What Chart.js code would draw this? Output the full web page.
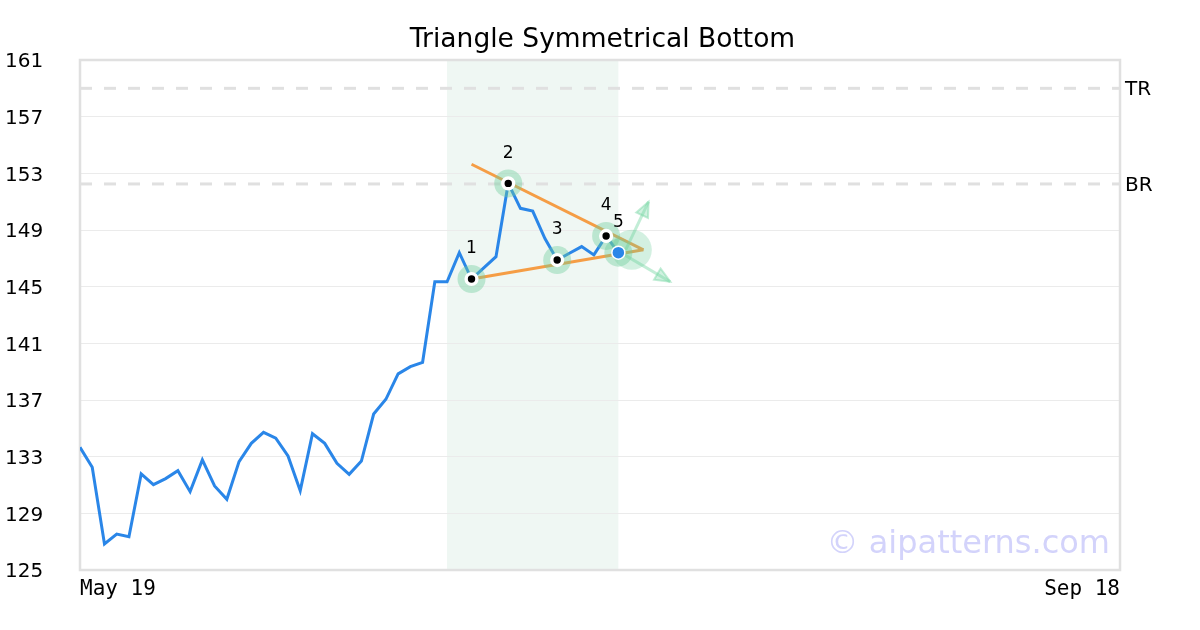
<!DOCTYPE html>
<html>
<head>
<meta charset="utf-8">
<script src="https://cdn.jsdelivr.net/npm/chart.js@4/dist/chart.umd.min.js"></script>
<style>
  html, body { margin: 0; padding: 0; background: #fff; }
  #wrap { width: 1200px; height: 630px; }
</style>
</head>
<body>
<div id="wrap"><canvas id="patternChart" width="1200" height="630"></canvas></div>
<script>
// ===== Data =====
const closes = [
  133.66, 132.25, 126.84, 127.54, 127.35, 131.78, 131.02, 131.45, 132.01, 130.53,
  132.77, 130.93, 129.99, 132.65, 133.94, 134.72, 134.30, 133.05, 130.60, 134.62,
  133.94, 132.53, 131.75, 132.69, 136.01, 137.05, 138.84, 139.35, 139.66, 145.35,
  145.35, 147.40, 145.54, 146.33, 147.12, 152.29, 150.53, 150.34, 148.40, 146.88,
  147.36, 147.83, 147.24, 148.58, 147.40
];
const xTickPos = [0, 85];
const xTickLabels = ['May 19', 'Sep 18'];
const yMin = 125, yMax = 161, yStep = 4;

const levelNames = ['TR', 'BR'];
const levelValues = [159.0, 152.25];

const pivotIdx = [32, 35, 39, 43];
const pivotLabels = ['1', '2', '3', '4', '5'];
const breakoutIdx = 44;
const zoneRange = [30, 44];

// trend lines: [x0, y0, x1, y1]
const upperTrend = [32, 153.64, 46.05, 147.6];
const lowerTrend = [32, 145.54, 46.05, 147.6];
// arrows from apex area: [x0, y0, x1, y1]
const arrowUp = [44.6, 147.6, 46.47, 151.0];
const arrowDown = [44.4, 147.3, 48.24, 145.35];
const apexGlow = [45.1, 147.6];

const blue = '#2a86e8';
const green = 'rgba(110,205,155,0.4)';
const arrowGreen = 'rgba(120,215,165,0.45)';

const pts = (arr) => [{ x: arr[0], y: arr[1] }, { x: arr[2], y: arr[3] }];
const allPivots = pivotIdx.concat([breakoutIdx]);

// ===== Plugins =====
const zonePlugin = {
  id: 'zone',
  beforeDraw(chart) {
    const { ctx, chartArea, scales } = chart;
    const x0 = scales.x.getPixelForValue(zoneRange[0]);
    const x1 = scales.x.getPixelForValue(zoneRange[1]);
    ctx.save();
    ctx.fillStyle = '#eff7f3';
    ctx.fillRect(x0, chartArea.top, x1 - x0, chartArea.bottom - chartArea.top);
    ctx.restore();
  },
  beforeDatasetsDraw(chart) {
    const { ctx, chartArea } = chart;
    ctx.save();
    ctx.strokeStyle = '#e0e0e0';
    ctx.lineWidth = 2.5;
    ctx.strokeRect(chartArea.left, chartArea.top, chartArea.right - chartArea.left, chartArea.bottom - chartArea.top);
    ctx.restore();
  },
  afterDatasetsDraw(chart) {
    const { ctx, scales } = chart;
    // arrow heads
    [arrowUp, arrowDown].forEach(a => {
      const x0 = scales.x.getPixelForValue(a[0]), y0 = scales.y.getPixelForValue(a[1]);
      const x1 = scales.x.getPixelForValue(a[2]), y1 = scales.y.getPixelForValue(a[3]);
      const ang = Math.atan2(y1 - y0, x1 - x0);
      const len = 15, half = 6.5;
      const bx = x1 - Math.cos(ang) * len, by = y1 - Math.sin(ang) * len;
      ctx.save();
      ctx.beginPath();
      ctx.moveTo(x1, y1);
      ctx.lineTo(bx + Math.sin(ang) * half, by - Math.cos(ang) * half);
      ctx.lineTo(bx - Math.sin(ang) * half, by + Math.cos(ang) * half);
      ctx.closePath();
      ctx.fillStyle = 'rgba(120,215,165,0.35)';
      ctx.strokeStyle = arrowGreen;
      ctx.lineWidth = 2;
      ctx.fill();
      ctx.stroke();
      ctx.restore();
    });
    // pivot numbers
    ctx.save();
    ctx.fillStyle = '#000';
    ctx.font = '17px "DejaVu Sans"';
    ctx.textAlign = 'center';
    ctx.textBaseline = 'middle';
    allPivots.forEach((i, k) => {
      const x = scales.x.getPixelForValue(i);
      const y = scales.y.getPixelForValue(closes[i]);
      ctx.fillText(pivotLabels[k], x, y - 30);
    });
    // watermark
    ctx.fillStyle = '#d3d3fb';
    ctx.font = '32px "DejaVu Sans"';
    ctx.textAlign = 'right';
    ctx.textBaseline = 'alphabetic';
    ctx.fillText('\u00a9 aipatterns.com', chart.chartArea.right - 10, chart.chartArea.bottom - 17);
    ctx.restore();
  }
};

// ===== Chart =====
const ctx = document.getElementById('patternChart').getContext('2d');
new Chart(ctx, {
  type: 'line',
  data: {
    datasets: [
      {
        // big glow near apex
        type: 'scatter',
        data: [{ x: apexGlow[0], y: apexGlow[1] }],
        pointRadius: 20,
        backgroundColor: 'rgba(110,205,155,0.3)',
        borderWidth: 0,
        order: 3
      },
      {
        // pivot markers 1-4
        type: 'scatter',
        data: pivotIdx.map(i => ({ x: i, y: closes[i] })),
        pointRadius: 5.4,
        backgroundColor: '#000',
        borderColor: '#fff',
        borderWidth: 3.4,
        order: 1
      },
      {
        // breakout point 5
        type: 'scatter',
        data: [{ x: breakoutIdx, y: closes[breakoutIdx] }],
        pointRadius: 6.5,
        backgroundColor: blue,
        borderColor: '#fff',
        borderWidth: 1.5,
        order: 1
      },
      {
        // halos
        type: 'scatter',
        data: allPivots.map(i => ({ x: i, y: closes[i] })),
        pointRadius: 14,
        backgroundColor: green,
        borderWidth: 0,
        order: 2
      },
      {
        data: pts(arrowUp),
        borderColor: arrowGreen, borderWidth: 3, pointRadius: 0, order: 3
      },
      {
        data: pts(arrowDown),
        borderColor: arrowGreen, borderWidth: 3, pointRadius: 0, order: 3
      },
      {
        data: pts(upperTrend),
        borderColor: '#f59d45', borderWidth: 3, pointRadius: 0, order: 4
      },
      {
        data: pts(lowerTrend),
        borderColor: '#f59d45', borderWidth: 3, pointRadius: 0, order: 4
      },
      {
        label: 'Close',
        data: closes.map((v, i) => ({ x: i, y: v })),
        borderColor: blue,
        borderWidth: 3,
        pointRadius: 0,
        tension: 0,
        order: 5
      },
      ...levelValues.map(v => ({
        data: [{ x: 0, y: v }, { x: 85, y: v }],
        borderColor: '#e0e0e0',
        borderWidth: 3,
        borderDash: [12, 12],
        pointRadius: 0,
        order: 10
      }))
    ]
  },
  options: {
    responsive: false,
    animation: false,
    devicePixelRatio: 1,
    layout: { padding: { left: 5, right: 0, top: 0, bottom: 0 } },
    plugins: {
      legend: { display: false },
      tooltip: { enabled: false },
      title: {
        display: true,
        text: 'Triangle Symmetrical Bottom',
        color: '#000',
        font: { family: 'DejaVu Sans', size: 26.5, weight: 'normal' },
        padding: { top: 24, bottom: 4.2 }
      }
    },
    scales: {
      x: {
        type: 'linear',
        min: 0,
        max: 85,
        grid: { display: false, drawTicks: false },
        border: { display: false },
        afterBuildTicks: s => { s.ticks = xTickPos.map(v => ({ value: v })); },
        afterFit: s => { s.height = 60; },
        ticks: {
          callback: (v, i) => xTickLabels[i],
          color: '#000',
          font: { family: 'DejaVu Sans Mono', size: 21 },
          align: 'inner',
          padding: 7,
          maxRotation: 0,
          autoSkip: false
        }
      },
      y: {
        position: 'left',
        min: yMin,
        max: yMax,
        grid: { color: '#ebebeb', lineWidth: 1, drawTicks: false },
        border: { display: false },
        afterFit: s => { s.width = 75; },
        ticks: {
          stepSize: yStep,
          color: '#000',
          font: { family: 'DejaVu Sans', size: 20 },
          crossAlign: 'far',
          labelOffset: 2,
          padding: 0
        }
      },
      y2: {
        position: 'right',
        min: yMin,
        max: yMax,
        grid: { display: false, drawTicks: false },
        border: { display: false },
        afterBuildTicks: s => { s.ticks = levelValues.map(v => ({ value: v })); },
        afterFit: s => { s.width = 80; },
        ticks: {
          callback: (v, i) => levelNames[i],
          color: '#000',
          font: { family: 'DejaVu Sans', size: 20 },
          crossAlign: 'near',
          labelOffset: 1.5,
          padding: 5,
          autoSkip: false
        }
      }
    }
  },
  plugins: [zonePlugin]
});
</script>
</body>
</html>
